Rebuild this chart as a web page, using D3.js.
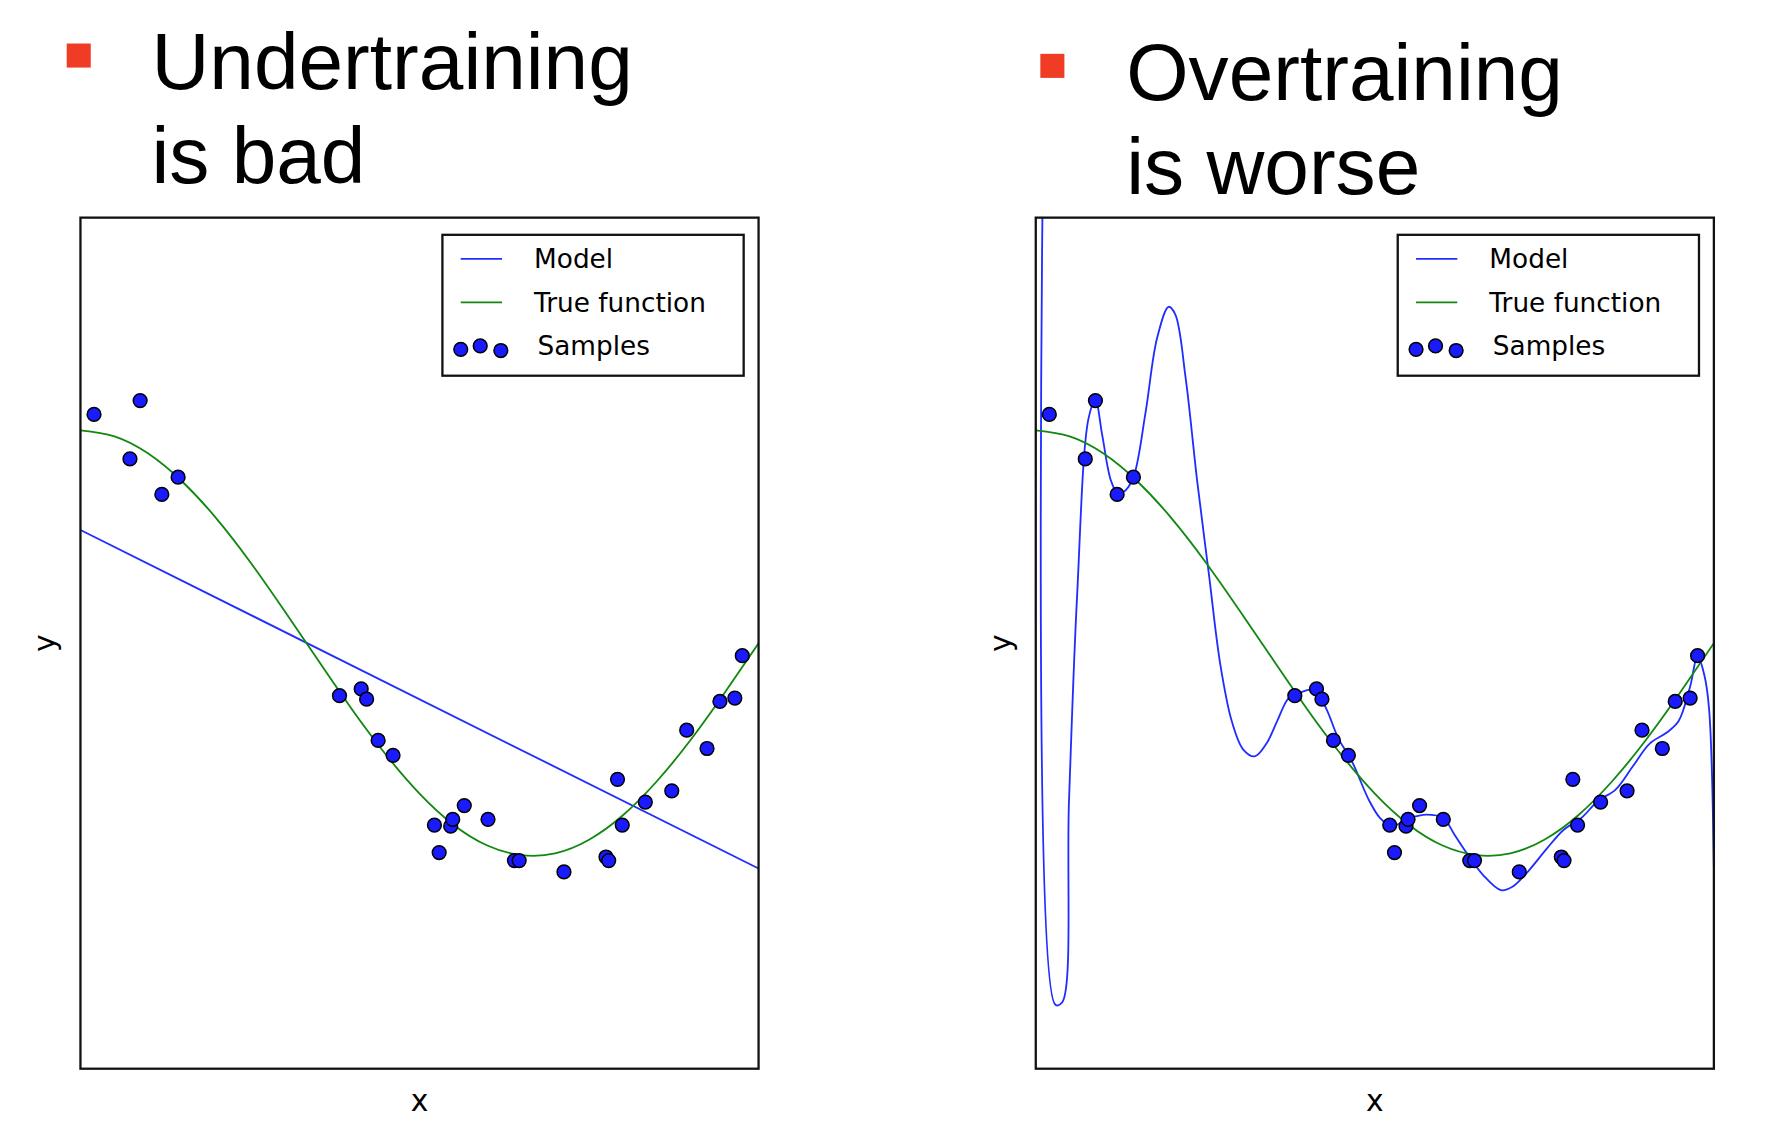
<!DOCTYPE html>
<html>
<head>
<meta charset="utf-8">
<script src="https://cdn.jsdelivr.net/npm/d3@7"></script>
<style>
  body { margin: 0; background: #fff; }
</style>
</head>
<body>
<div id="chart"></div>
<script>
// samples (same in both panels)
const sampleX = [0.020, 0.088, 0.073, 0.120, 0.144, 0.382, 0.414, 0.422, 0.439, 0.461,
  0.522, 0.529, 0.546, 0.549, 0.566, 0.601, 0.640, 0.647, 0.713, 0.775,
  0.779, 0.792, 0.799, 0.833, 0.872, 0.894, 0.924, 0.943, 0.965, 0.976];
const sampleY = [1.075, 1.140, 0.866, 0.699, 0.780, -0.247, -0.215, -0.263, -0.457, -0.527,
  -0.855, -0.984, -0.860, -0.828, -0.763, -0.828, -1.022, -1.022, -1.075, -1.005,
  -1.022, -0.640, -0.855, -0.747, -0.694, -0.409, -0.495, -0.274, -0.258, -0.059];

// true function
const trueX = [0, 0.05, 0.1, 0.15, 0.2, 0.25, 0.3, 0.35, 0.4, 0.45, 0.5,
  0.55, 0.6, 0.65, 0.7, 0.75, 0.8, 0.85, 0.9, 0.95, 1];
const trueY = [1, 0.972, 0.891, 0.760, 0.588, 0.383, 0.156, -0.078, -0.309, -0.522, -0.707,
  -0.853, -0.951, -0.996, -0.988, -0.924, -0.809, -0.649, -0.454, -0.233, 0];

// underfit model (straight line)
const underX = [0, 1];
const underY = [0.532, -1.059];

// overfit model
const overX = [0.012, 0.029, 0.039, 0.049, 0.061, 0.078, 0.088, 0.098, 0.111, 0.122, 0.133, 0.145,
  0.162, 0.179, 0.196, 0.206, 0.221, 0.238, 0.255, 0.272, 0.289, 0.306, 0.323, 0.340, 0.356,
  0.373, 0.390, 0.412, 0.429, 0.446, 0.466, 0.492, 0.508, 0.525, 0.551, 0.576, 0.601, 0.618,
  0.635, 0.660, 0.686, 0.703, 0.728, 0.753, 0.779, 0.804, 0.829, 0.855, 0.880, 0.905, 0.931,
  0.948, 0.965, 0.976, 0.986, 0.993, 1.0];
const overY = [2.6, -1.699, -1.688, -0.742, 0.226, 1.059, 1.140, 0.978, 0.763, 0.699, 0.720, 0.790,
  1.086, 1.435, 1.581, 1.543, 1.247, 0.763, 0.333, -0.097, -0.366, -0.500, -0.532, -0.473, -0.366,
  -0.258, -0.231, -0.220, -0.312, -0.446, -0.554, -0.742, -0.823, -0.860, -0.823, -0.806, -0.823, -0.903,
  -0.984, -1.091, -1.161, -1.145, -1.065, -0.968, -0.876, -0.823, -0.742, -0.688, -0.581, -0.473, -0.419,
  -0.366, -0.204, -0.059, -0.151, -0.312, -1.048];

const panels = [
  { left: 70, title: ["Undertraining", "is bad"], titleX: 132, base: 78, bullet: [58, 38], mx: underX, my: underY, curve: d3.curveLinear },
  { left: 904, title: ["Overtraining", "is worse"], titleX: 983, base: 87, bullet: [908, 47], mx: overX, my: overY, curve: d3.curveCatmullRom }
];

const svg = d3.select("#chart").append("svg")
  .attr("width", 1776).attr("height", 1134)
  .attr("viewBox", "0 0 1550 990");

const plotW = 592, plotTop = 190, plotBottom = 933;
const y = d3.scaleLinear().domain([-2, 2]).range([plotBottom, plotTop]);

panels.forEach(function (p, i) {
  const x = d3.scaleLinear().domain([0, 1]).range([p.left, p.left + plotW]);
  const zip = (xs, ys) => xs.map((v, k) => [v, ys[k]]);

  // title with red bullet
  svg.append("rect").attr("x", p.bullet[0]).attr("y", p.bullet[1])
    .attr("width", 21).attr("height", 21).attr("fill", "#f03c24");
  p.title.forEach(function (t, k) {
    svg.append("text").attr("x", p.titleX).attr("y", p.base + k * 82)
      .attr("font-family", "Liberation Sans, Arial, sans-serif")
      .attr("font-size", 70).text(t);
  });

  const clipId = "clip" + i;
  svg.append("clipPath").attr("id", clipId).append("rect")
    .attr("x", p.left).attr("y", plotTop).attr("width", plotW).attr("height", plotBottom - plotTop);
  const g = svg.append("g").attr("clip-path", "url(#" + clipId + ")");

  const line = d3.line().x(d => x(d[0])).y(d => y(d[1]));

  g.append("path").datum(zip(p.mx, p.my))
    .attr("d", line.curve(p.curve)).attr("fill", "none")
    .attr("stroke", "#1f2eff").attr("stroke-width", 1.6);

  g.append("path").datum(zip(trueX, trueY))
    .attr("d", d3.line().x(d => x(d[0])).y(d => y(d[1])).curve(d3.curveNatural))
    .attr("fill", "none").attr("stroke", "#118811").attr("stroke-width", 1.6);

  g.selectAll("circle.s").data(zip(sampleX, sampleY)).enter().append("circle")
    .attr("class", "s").attr("cx", d => x(d[0])).attr("cy", d => y(d[1]))
    .attr("r", 6).attr("fill", "#1a1aff").attr("stroke", "#000").attr("stroke-width", 1.3);

  // frame
  svg.append("rect").attr("x", p.left).attr("y", plotTop).attr("width", plotW).attr("height", plotBottom - plotTop)
    .attr("fill", "none").attr("stroke", "#111").attr("stroke-width", 2);

  // axis labels
  svg.append("text").attr("x", p.left + plotW / 2).attr("y", 970).attr("text-anchor", "middle")
    .attr("font-family", "DejaVu Sans, sans-serif").attr("font-size", 26).text("x");
  svg.append("text").attr("transform", "translate(" + (p.left - 22) + "," + ((plotTop + plotBottom) / 2) + ") rotate(-90)")
    .attr("text-anchor", "middle")
    .attr("font-family", "DejaVu Sans, sans-serif").attr("font-size", 26).text("y");

  // legend
  const lx = p.left + 316, ly = 205;
  const lg = svg.append("g").attr("font-family", "DejaVu Sans, sans-serif").attr("font-size", 23);
  lg.append("rect").attr("x", lx).attr("y", ly).attr("width", 263).attr("height", 123)
    .attr("fill", "#fff").attr("stroke", "#111").attr("stroke-width", 2);
  const items = [["Model", "#1f2eff"], ["True function", "#118811"]];
  items.forEach(function (it, k) {
    const yy = ly + 21 + k * 38;
    lg.append("line").attr("x1", lx + 16).attr("x2", lx + 52).attr("y1", yy).attr("y2", yy)
      .attr("stroke", it[1]).attr("stroke-width", 1.6);
    lg.append("text").attr("x", lx + 80).attr("y", yy + 8).text(it[0]);
  });
  [[lx + 16, 100], [lx + 33, 97], [lx + 51, 101]].forEach(function (c) {
    lg.append("circle").attr("cx", c[0]).attr("cy", ly + c[1]).attr("r", 6)
      .attr("fill", "#1a1aff").attr("stroke", "#000").attr("stroke-width", 1.3);
  });
  lg.append("text").attr("x", lx + 83).attr("y", ly + 105).text("Samples");
});
</script>
</body>
</html>
